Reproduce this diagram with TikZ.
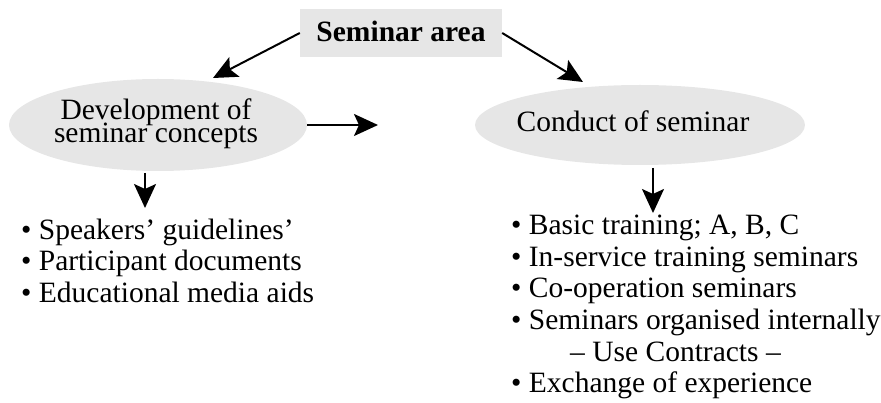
\documentclass[tikz,border=0pt]{standalone}
\usepackage{fontspec}
\setmainfont{Liberation Serif}
\usetikzlibrary{arrows.meta,shapes.geometric}
\definecolor{boxgray}{RGB}{230,230,230}
\tikzset{
  arr/.style={line width=2pt,-{Stealth[length=24pt,width=22pt,inset=5pt]}},
  blob/.style={ellipse,fill=boxgray,inner sep=0pt},
  txt/.style={font=\fontsize{29.5}{22}\selectfont,inner sep=0pt},
  item/.style={txt,anchor=base west},
}
\begin{document}
\begin{tikzpicture}[x=1pt,y=-1pt]
  \useasboundingbox (0,0) rectangle (881,403);

  % title box
  \node[fill=boxgray,minimum width=202pt,minimum height=48pt,inner sep=0pt] (sa) at (401,33) {};
  \node[txt,anchor=base,font=\fontsize{29.5}{22}\selectfont\bfseries] (satxt) at (401,42) {Seminar area};

  % the two work areas
  \node[blob,minimum width=298pt,minimum height=92pt] (dev) at (158,125) {};
  \node[txt,anchor=base] (devtxt1) at (156,120) {Development of};
  \node[txt,anchor=base] (devtxt2) at (156,143) {seminar concepts};
  \node[blob,minimum width=330pt,minimum height=80pt] (con) at (640,125) {};
  \node[txt,anchor=base] (context) at (633,132) {Conduct of seminar};

  % arrow end points
  \coordinate (t1) at (213,78);
  \coordinate (t2) at (583,82);
  \coordinate (t3) at (378,125);
  \coordinate (s4) at (145,173);
  \coordinate (t4) at (145,208);
  \coordinate (s5) at (653,168);
  \coordinate (t5) at (653,213);

  \draw[arr] (sa.west) -- (t1);
  \draw[arr] (sa.east) -- (t2);
  \draw[arr] (dev.east) -- (t3);
  \draw[arr] (s4) -- (t4);
  \draw[arr] (s5) -- (t5);

  % left list
  \node[item] (l1) at (21,240) {• Speakers’ guidelines’};
  \node[item] (l2) at (21,271) {• Participant documents};
  \node[item] (l3) at (21,303) {• Educational media aids};

  % right list
  \node[item] (r1) at (511,235) {• Basic training; A, B, C};
  \node[item] (r2) at (511,267) {• In-service training seminars};
  \node[item] (r3) at (511,298) {• Co-operation seminars};
  \node[item] (r4) at (511,330) {• Seminars organised internally};
  \node[item] (r5) at (570,361) {– Use Contracts –};
  \node[item] (r6) at (511,392) {• Exchange of experience};
\end{tikzpicture}
\end{document}
